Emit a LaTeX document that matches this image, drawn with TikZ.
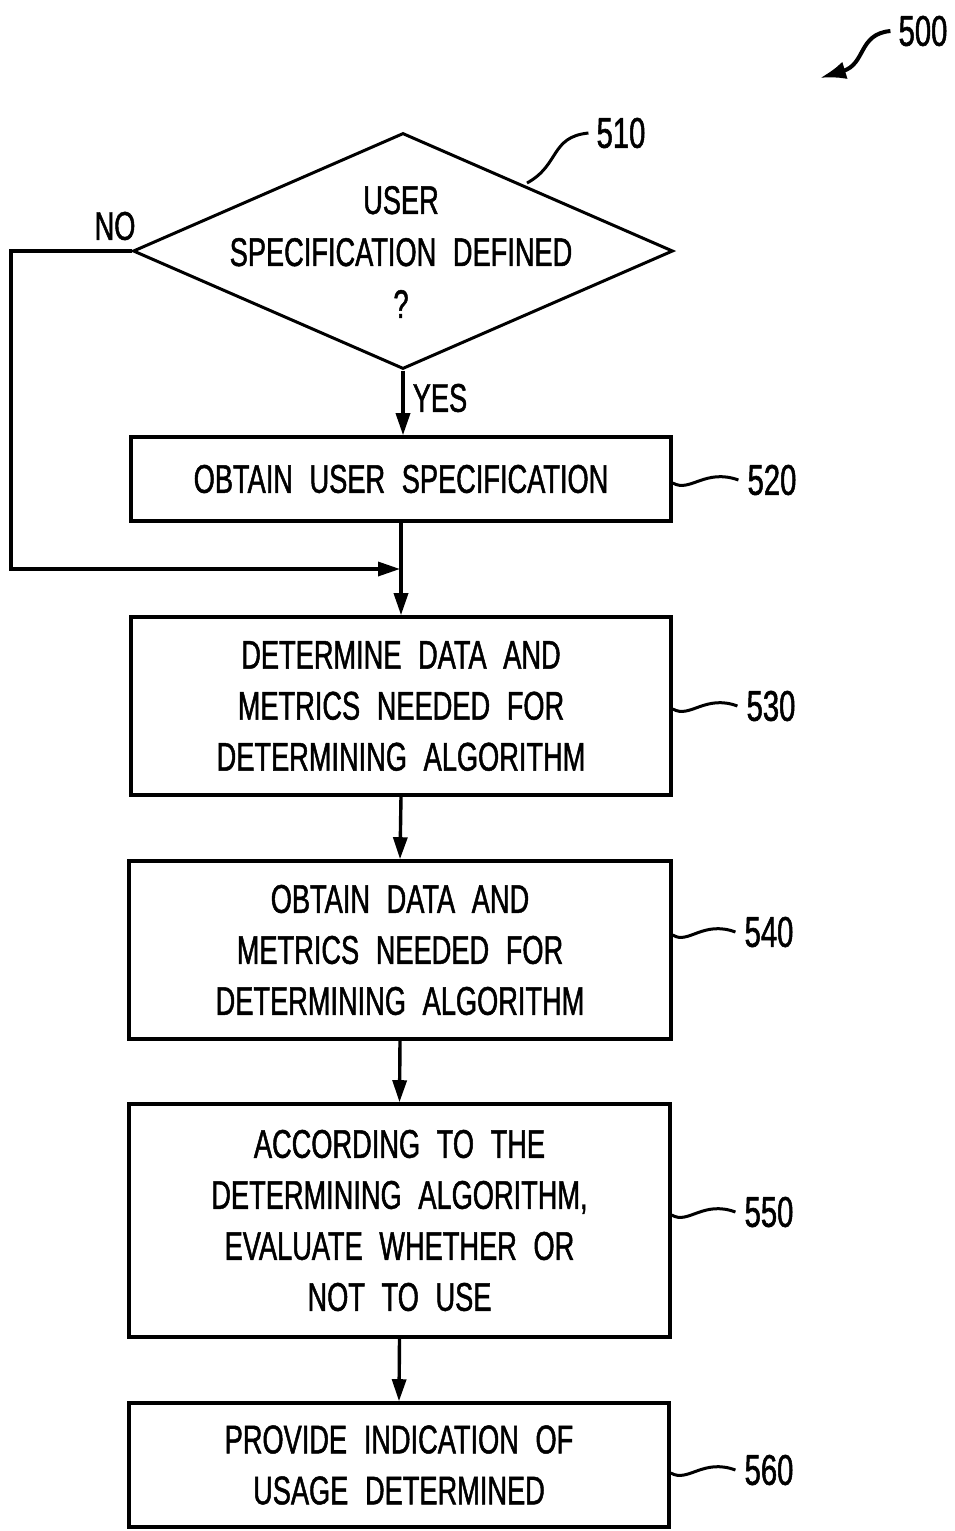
\documentclass[tikz,border=0pt]{standalone}
\usepackage{fontspec}
\setmainfont{Liberation Sans}[FakeStretch=0.68,WordSpace=2.2,FakeBold=1.2]
\usetikzlibrary{shapes.geometric,arrows.meta}
\tikzset{
  stepbox/.style={draw,line width=3.6pt,minimum width=540pt,inner sep=0pt,align=center,
    font=\fontsize{40}{51}\selectfont},
  flow/.style={line width=3.4pt,-{Triangle[length=22pt,width=14pt]}},
  reflabel/.style={font=\fontsize{43}{50}\selectfont,inner sep=0pt},
  leader/.style={line width=3pt},
}
\begin{document}
\begin{tikzpicture}[x=1pt,y=-1pt]
\useasboundingbox (0,0) rectangle (954,1531);
% decision
\node[diamond,draw,line width=3pt,minimum width=540pt,minimum height=236pt,inner sep=0pt] (d510) at (403,251) {};
\node[align=center,font=\fontsize{40}{52}\selectfont,inner sep=0pt] (d510t) at (401,252)
  {USER\\SPECIFICATION DEFINED\\?};
% boxes
\node[stepbox,minimum height=84pt] (b520) at (401,479) {OBTAIN USER SPECIFICATION};
\node[stepbox,minimum height=178pt] (b530) at (401,706) {DETERMINE DATA AND\\METRICS NEEDED FOR\\DETERMINING ALGORITHM};
\node[stepbox,minimum width=542pt,minimum height=178pt] (b540) at (400,950) {OBTAIN DATA AND\\METRICS NEEDED FOR\\DETERMINING ALGORITHM};
\node[stepbox,minimum width=541pt,minimum height=233pt] (b550) at (399.5,1220.5) {ACCORDING TO THE\\DETERMINING ALGORITHM,\\EVALUATE WHETHER OR\\NOT TO USE};
\node[stepbox,minimum width=540pt,minimum height=124pt] (b560) at (399,1465) {PROVIDE INDICATION OF\\USAGE DETERMINED};
% branch labels
\node[font=\fontsize{40}{50}\selectfont,inner sep=0pt] (no) at (115,226) {NO};
\node[font=\fontsize{40}{50}\selectfont,inner sep=0pt] (yes) at (440,398) {YES};
% connectors
\coordinate (nocorner) at (11,251);
\coordinate (merge) at (400,569);
\draw[flow] (d510.south) -- (d510.south |- b520.north);
\draw[flow] (d510.west) -- (nocorner) |- (merge);
\draw[flow] (b520.south) -- (b530.north);
\draw[flow] (b530.south) -- (b540.north);
\draw[flow] (b540.south) -- (b550.north);
\draw[flow] (b550.south) -- (b560.north);
% reference labels
\node[reflabel] (l500) at (923,31) {500};
\node[reflabel] (l510) at (621,133) {510};
\node[reflabel] (l520) at (772,480) {520};
\node[reflabel] (l530) at (771,706) {530};
\node[reflabel] (l540) at (769,932) {540};
\node[reflabel] (l550) at (769,1212) {550};
\node[reflabel] (l560) at (769,1470) {560};
\coordinate (a500) at (820,78);
\draw[line width=4pt,-{Latex[length=26pt,width=18pt]}] (l500.west) ++(-8,0) .. controls (858,34) and (866,64) .. (a500);
\draw[leader] (527,183) .. controls (560,165) and (550,137) .. ([xshift=-8pt]l510.west);
\draw[leader] (b520.east |- 0,483) .. controls (690,493) and (705,468) .. ([xshift=-9pt]l520.west);
\draw[leader] (b530.east |- 0,709) .. controls (690,719) and (705,694) .. ([xshift=-9pt]l530.west);
\draw[leader] (b540.east |- 0,935) .. controls (688,945) and (703,920) .. ([xshift=-9pt]l540.west);
\draw[leader] (b550.east |- 0,1215) .. controls (688,1225) and (703,1200) .. ([xshift=-9pt]l550.west);
\draw[leader] (b560.east |- 0,1473) .. controls (688,1483) and (703,1458) .. ([xshift=-9pt]l560.west);
\end{tikzpicture}
\end{document}
